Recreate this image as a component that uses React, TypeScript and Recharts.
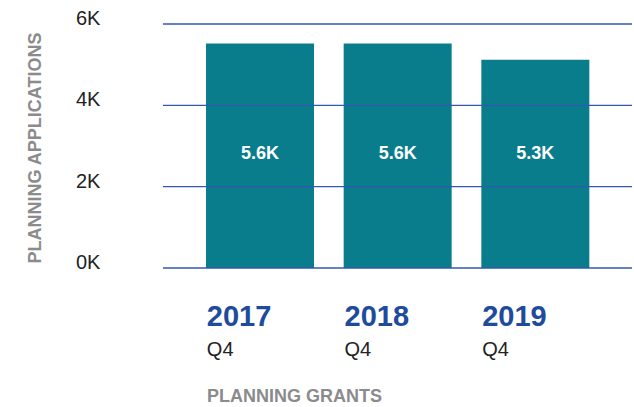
import { BarChart, Bar, XAxis, YAxis, ReferenceLine, LabelList, Label } from "recharts";

const years = ["2017", "2018", "2019"];
const quarters = ["Q4", "Q4", "Q4"];
const applications = [5520, 5520, 5120];
const valueLabels = ["5.6K", "5.6K", "5.3K"];
const yTicks = [0, 2000, 4000, 6000];

const data = years.map((y, i) => ({
  year: y,
  quarter: quarters[i],
  value: applications[i],
  label: valueLabels[i],
}));

const FONT = "'Liberation Sans', Arial, Helvetica, sans-serif";
const TEAL = "#0a7d8c";
const BLUE = "#1e4b9c";
const GRID = "#3159b0";
const GREY = "#8b8b8e";
const BAR_W = 108;

const YTick = (props: any) => {
  const { y, payload } = props;
  return (
    <text x={76} y={y + 1} fontSize={20} fill="#222" fontFamily={FONT} textAnchor="start">
      {`${payload.value / 1000}K`}
    </text>
  );
};

const XTick = (props: any) => {
  const { x, payload, index } = props;
  const left = x - BAR_W / 2 + 1;
  return (
    <g>
      <text x={left} y={326} fontSize={29} fontWeight="bold" fill={BLUE} fontFamily={FONT}>
        {payload.value}
      </text>
      <text x={left} y={356} fontSize={20} fill="#222" fontFamily={FONT}>
        {quarters[index] ?? "Q4"}
      </text>
    </g>
  );
};

const BarValue = (props: any) => {
  const { x, y, width, height, index } = props;
  return (
    <text
      x={x + width / 2}
      y={y + height - 115}
      fontSize={18}
      fontWeight="bold"
      fill="#fff"
      fontFamily={FONT}
      textAnchor="middle"
      dominantBaseline="central"
    >
      {valueLabels[index]}
    </text>
  );
};

export default function App() {
  return (
    <div style={{ position: "absolute", left: 0, top: 0, width: 634, height: 407, background: "#fff" }}>
      <BarChart
        width={634}
        height={407}
        data={data}
        margin={{ top: 24, right: 2, left: 0, bottom: 39 }}
      >
        <YAxis
          domain={[0, 6000]}
          ticks={yTicks}
          width={163}
          axisLine={false}
          tickLine={false}
          tick={<YTick />}
        >
          <Label
            content={() => (
              <text
                x={35}
                y={148}
                transform="rotate(-90, 35, 148)"
                fontSize={18}
                fontWeight="bold"
                fill={GREY}
                fontFamily={FONT}
                textAnchor="middle"
                dominantBaseline="central"
              >
                PLANNING APPLICATIONS
              </text>
            )}
          />
        </YAxis>
        <XAxis
          dataKey="year"
          height={100}
          axisLine={false}
          tickLine={false}
          padding={{ left: 28, right: 28 }}
          tick={<XTick />}
          interval={0}
        >
          <Label
            content={() => (
              <text x={207} y={402} fontSize={18} fontWeight="bold" fill={GREY} fontFamily={FONT}>
                PLANNING GRANTS
              </text>
            )}
          />
        </XAxis>
        <Bar dataKey="value" fill={TEAL} barSize={BAR_W} isAnimationActive={false}>
          <LabelList dataKey="label" content={<BarValue />} />
        </Bar>
        {yTicks.map((t) => (
          <ReferenceLine key={t} y={t} stroke={GRID} strokeWidth={1.3} ifOverflow="visible" />
        ))}
      </BarChart>
    </div>
  );
}
